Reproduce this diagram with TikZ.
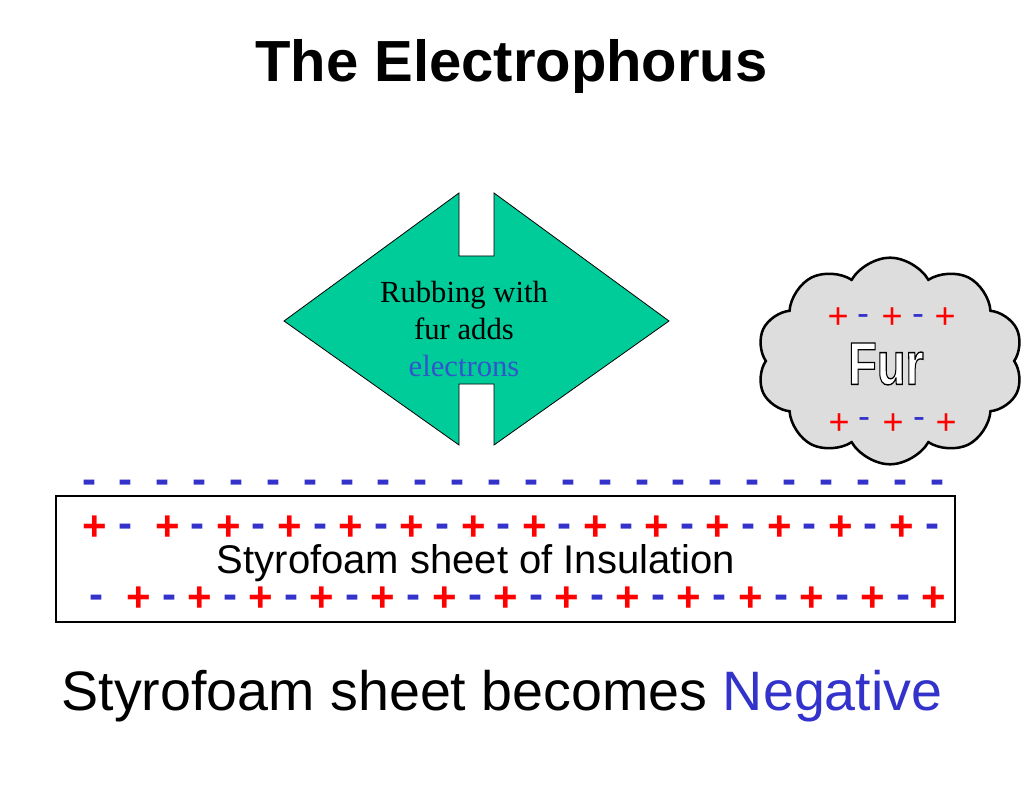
\documentclass[tikz,border=0pt]{standalone}
\usepackage{fontspec}
\usepackage{graphicx}
\usetikzlibrary{shapes.symbols}
\setmainfont{Liberation Sans}
\newfontfamily\serifrm{Liberation Serif}
\definecolor{chgblue}{HTML}{3333CC}
\definecolor{elecblue}{HTML}{3355CC}
\definecolor{chgred}{HTML}{FF0000}
\definecolor{arrowgreen}{HTML}{00CC99}
\definecolor{furgray}{HTML}{DDDDDD}
\begin{document}
\begin{tikzpicture}[x=0.75pt,y=-0.75pt,
  bigplus/.style={anchor=base,inner sep=0pt,text=chgred,font=\bfseries\fontsize{31.5}{36}\selectfont},
  bigminus/.style={anchor=base,inner sep=0pt,text=chgblue,font=\bfseries\fontsize{31.5}{36}\selectfont},
  smallplus/.style={anchor=base,inner sep=0pt,text=chgred,font=\fontsize{27}{30}\selectfont},
  smallminus/.style={anchor=base,inner sep=0pt,text=chgblue,font=\fontsize{27}{30}\selectfont},
  arrowtext/.style={anchor=base,inner sep=0pt,font=\serifrm\fontsize{23}{27}\selectfont},
  plain/.style={anchor=base,inner sep=0pt}
]
\useasboundingbox (0,0) rectangle (1023,791);
\fill[white] (0,0) rectangle (1023,791);

% title
\node[plain,font=\bfseries\fontsize{43.5}{50}\selectfont] (title) at (511.5,82) {The Electrophorus};

% double arrow shape
\draw[fill=arrowgreen,line width=0.6pt,line join=miter]
  (459,193) -- (459,256) -- (494,256) -- (494,193) -- (669,321) -- (494,445)
  -- (494,384) -- (459,384) -- (459,445) -- (284,321) -- cycle;
\node[arrowtext] (rub1) at (464,302) {Rubbing with};
\node[arrowtext] (rub2) at (464,339) {fur adds};
\node[arrowtext,text=elecblue] (rub3) at (464,376) {electrons};

% fur cloud
\node[cloud, cloud puffs=10, cloud puff arc=120, cloud ignores aspect, draw, line width=1.9pt,
      fill=furgray, minimum width=200pt, minimum height=155pt, inner sep=0pt] (cloud) at (890,361) {};
\foreach \x [count=\k] in {838,892,945} {
  \node[smallplus] (ftp\k) at (\x,328.7) {+};
  \node[smallplus] (fbp\k) at (\x+1,434.7) {+};
}
\foreach \x [count=\k] in {863,918} {
  \node[smallminus] (ftm\k) at (\x,325.3) {-};
  \node[smallminus] (fbm\k) at (\x+1,428.8) {-};
}
\node[inner sep=0pt] (fur) at (886,364)
  {\scalebox{0.78}[1]{\fontsize{45}{50}\selectfont\bfseries\color{white}\special{pdf:literal direct 0 G 2 Tr 1 w}Fur\special{pdf:literal direct 0 Tr}}};

% top row of charges
\foreach \i in {0,...,23} {
  \node[bigminus] (top\i) at ({89+36.87*\i},493) {-};
}

% styrofoam sheet
\draw[line width=2pt] (56,496) rectangle (955,622);
\node[plain,font=\fontsize{30}{34}\selectfont] (sheet) at (476,573) {Styrofoam sheet of Insulation};

% row 1
\node[bigplus] (ra0) at (94.3,540.7) {+};
\node[bigminus] (rb0) at (125,537) {-};
\foreach \i in {0,...,12} {
  \node[bigplus] (rap\i) at ({167.3+61.2*\i},540.7) {+};
  \node[bigminus] (ram\i) at ({197.7+61.2*\i},537) {-};
}
% row 2
\node[bigminus] (sb0) at (96,608.7) {-};
\foreach \i in {0,...,13} {
  \node[bigplus] (sp\i) at ({138.3+61.2*\i},611.7) {+};
}
\foreach \i in {0,...,12} {
  \node[bigminus] (sm\i) at ({169+61.2*\i},608.7) {-};
}

% conclusion
\node[plain,font=\fontsize{41.7}{48}\selectfont] (concl) at (502,710) {Styrofoam sheet becomes \textcolor{chgblue}{Negative}};
\end{tikzpicture}
\end{document}
